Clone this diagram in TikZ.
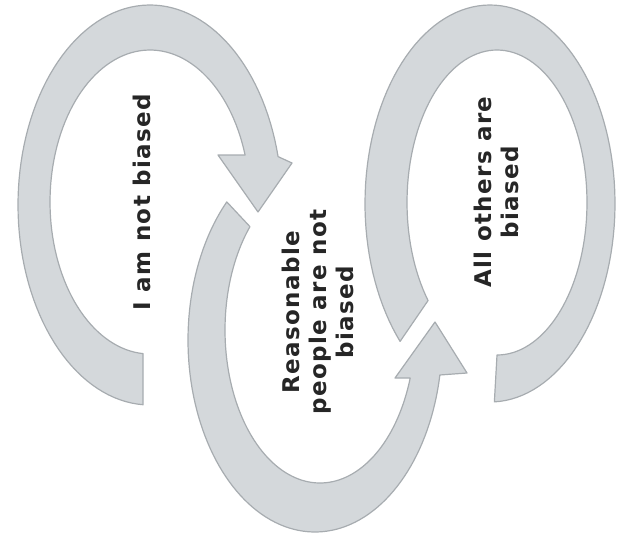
\documentclass[tikz,border=0pt]{standalone}
\usepackage{fontspec}
\setmainfont{DejaVu Sans}
\newfontfamily\lblfont[LetterSpace=6]{DejaVu Sans}
\definecolor{bandfill}{HTML}{D4D8DB}
\definecolor{bandedge}{HTML}{A7ACB0}
\definecolor{ink}{HTML}{262626}
\begin{document}
\begin{tikzpicture}[x=1pt,y=-1pt,
  band/.style={fill=bandfill, draw=bandedge, line width=1.2pt, line join=round},
  lbl/.style={rotate=90, align=center, text=ink, inner sep=0pt,
    font=\lblfont\bfseries\fontsize{23}{27}\selectfont}]
\useasboundingbox (0,0) rectangle (620,544);

% left arrow
\draw[band] plot[domain=93:346,samples=100] ({150+132*cos(\x)},{205+200*sin(\x)})
  -- (292,163) -- (258,212) -- (218,155)
  -- plot[domain=342:94,samples=100] ({150+100*cos(\x)},{202+152*sin(\x)}) -- cycle;

% middle arrow
\draw[band] plot[domain=226:10.5,samples=100] ({315+127*cos(\x)},{340+192*sin(\x)})
  -- (467,373) -- (435,322) -- (395,378)
  -- plot[domain=18.3:222.5,samples=100] ({320+95*cos(\x)},{330+153*sin(\x)}) -- cycle;

% right ring
\draw[band] plot[domain=136:448,samples=120] ({490+125*cos(\x)},{203.5+198.5*sin(\x)})
  -- plot[domain=450:140,samples=120] ({497+90*cos(\x)},{202.5+152.5*sin(\x)}) -- cycle;

\node[lbl] (t1) at (142,202) {I am not biased};
\node[lbl] (t2) at (318,312) {Reasonable\\people are not\\biased};
\node[lbl] (t3) at (496,192) {All others are\\biased};
\end{tikzpicture}
\end{document}
